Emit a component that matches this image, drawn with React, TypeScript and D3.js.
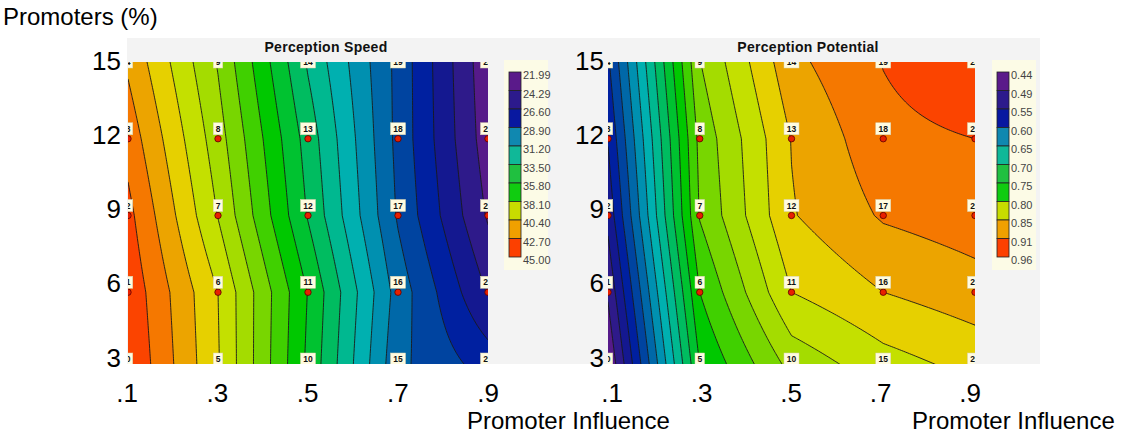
import React from "react";
import * as d3 from "d3";

// Grid of the design: promoter influence (columns) by promoters % (rows)
const influence = [0.1, 0.3, 0.5, 0.7, 0.9];
const promoters = [3, 6, 9, 12, 15];

// Rows run from promoters = 3 up to 15, columns from influence .1 to .9
const speedValues = [
  [45.0, 40.5, 34.4, 28.0, 26.2],
  [44.7, 40.4, 34.6, 28.4, 24.2],
  [44.2, 39.2, 33.4, 27.6, 23.0],
  [43.4, 38.6, 33.0, 27.4, 22.5],
  [42.5, 38.0, 32.2, 27.4, 22.3],
];
const potentialValues = [
  [0.44, 0.725, 0.81, 0.843, 0.862],
  [0.47, 0.752, 0.856, 0.882, 0.897],
  [0.5, 0.78, 0.88, 0.911, 0.922],
  [0.52, 0.786, 0.883, 0.926, 0.934],
  [0.54, 0.803, 0.901, 0.935, 0.958],
];

const speedLegend = ["21.99", "24.29", "26.60", "28.90", "31.20", "33.50", "35.80", "38.10", "40.40", "42.70", "45.00"];
const potentialLegend = ["0.44", "0.49", "0.55", "0.60", "0.65", "0.70", "0.75", "0.80", "0.85", "0.91", "0.96"];

// Fill colours of the 20 contour bands, low value to high value
const bandColors = [
  "#561a8a", "#2e1a8a", "#141890", "#0020a0", "#0044a0",
  "#0068a8", "#0090b0", "#00b0b0", "#00b890", "#00bc60",
  "#00c230", "#00c800", "#40d000", "#78d600", "#a4dc00",
  "#c4e000", "#e6d000", "#eca400", "#f57800", "#fb4400",
];
// Colours of the 10 legend swatches, low to high
const legendColors = [
  "#5a1a8a", "#2c1a8c", "#0818a0", "#1088b0", "#10b898",
  "#20c040", "#10cc10", "#c8dc00", "#f0a000", "#fc4000",
];

const xTickLabels = [".1", ".3", ".5", ".7", ".9"];
const yTickLabels = ["3", "6", "9", "12", "15"];

const FONT = "'Liberation Sans', Arial, Helvetica, sans-serif";
const NX = 181;
const NY = 121;

function bilinear(grid: number[][], fx: number, fy: number) {
  const i0 = Math.min(3, Math.floor(fx));
  const j0 = Math.min(3, Math.floor(fy));
  const tx = fx - i0;
  const ty = fy - j0;
  const a = grid[j0][i0];
  const b = grid[j0][i0 + 1];
  const c = grid[j0 + 1][i0];
  const d = grid[j0 + 1][i0 + 1];
  return a * (1 - tx) * (1 - ty) + b * tx * (1 - ty) + c * (1 - tx) * ty + d * tx * ty;
}

type PanelProps = {
  id: string;
  title: string;
  titleX: number;
  values: number[][];
  legend: string[];
  x0: number;
  x1: number;
  legendX: number;
  tickX0: number;
  tickX1: number;
  yTickRight: number;
};

function Panel({ id, title, titleX, values, legend, x0, x1, legendX, tickX0, tickX1, yTickRight }: PanelProps) {
  const top = 62;
  const clipBottom = 364;
  const xScale = d3.scaleLinear().domain([0.1, 0.9]).range([x0, x1]);
  const yScale = d3.scaleLinear().domain([3, 15]).range([369, top]);
  const xTick = d3.scaleLinear().domain([0.1, 0.9]).range([tickX0, tickX1]);
  const yTick = d3.scaleLinear().domain([3, 15]).range([357, 60]);

  const lo = +legend[0];
  const hi = +legend[legend.length - 1];
  const levels = d3.range(21).map((i) => lo + (i * (hi - lo)) / 20);

  // Resample the 5x5 design onto a fine grid (row 0 = promoters 15)
  const field = new Array(NX * NY);
  for (let j = 0; j < NY; j++) {
    const fy = 4 - (j / (NY - 1)) * 4;
    for (let i = 0; i < NX; i++) {
      const fx = (i / (NX - 1)) * 4;
      field[j * NX + i] = bilinear(values, fx, fy);
    }
  }
  const contours = d3.contours().size([NX, NY]).thresholds(levels)(field);

  const px = (cx: number) => xScale(0.1 + ((cx - 0.5) / (NX - 1)) * 0.8);
  const py = (cy: number) => yScale(15 - ((cy - 0.5) / (NY - 1)) * 12);
  const toPath = (mp: d3.ContourMultiPolygon) =>
    mp.coordinates
      .map((poly) =>
        poly.map((ring) => "M" + ring.map(([cx, cy]) => `${px(cx).toFixed(2)},${py(cy).toFixed(2)}`).join("L") + "Z").join("")
      )
      .join("");

  const paths = contours.map(toPath);
  const legendScale = d3.scaleLinear().domain([0, 10]).range([72, 257]);
  const plotW = x1 - x0;

  const points: { x: number; y: number; n: number }[] = [];
  influence.forEach((inf, ci) =>
    promoters.forEach((pr, ri) => points.push({ x: xScale(inf), y: yScale(pr), n: ci * 5 + ri }))
  );

  return (
    <g>
      <defs>
        <clipPath id={`clip-${id}`}>
          <rect x={x0} y={top} width={plotW} height={clipBottom - top} />
        </clipPath>
      </defs>
      <text
        x={titleX}
        y={52}
        textAnchor="middle"
        fontFamily={FONT}
        fontWeight="bold"
        fontSize={14}
        letterSpacing={0.3}
        fill="#111"
      >
        {title}
      </text>
      <g clipPath={`url(#clip-${id})`}>
        <rect x={x0} y={top} width={plotW} height={clipBottom - top} fill={bandColors[0]} />
        {paths.slice(0, 20).map((d, i) => (
          <path key={`f${i}`} d={d} fill={bandColors[i]} stroke={bandColors[i]} strokeWidth={0.3} />
        ))}
        {paths.slice(1, 20).map((d, i) => (
          <path key={`l${i}`} d={d} fill="none" stroke="#1a1a1a" strokeWidth={0.9} />
        ))}
        {points.map((p) => {
          const label = String(p.n);
          const w = label.length * 5.5 + 4;
          const ly = Math.max(p.y - 10, top);
          return (
            <g key={`p${p.n}`}>
              <circle cx={p.x} cy={p.y} r={3.2} fill="#e82000" stroke="#5a0000" strokeWidth={0.8} />
              <rect x={p.x - w / 2} y={ly - 6} width={w} height={12} fill="#fffbe0" stroke="#d8d2b0" strokeWidth={0.5} />
              <text x={p.x} y={ly + 3} textAnchor="middle" fontFamily={FONT} fontWeight="bold" fontSize={8.5} fill="#111">
                {label}
              </text>
            </g>
          );
        })}
      </g>

      {/* Legend */}
      <rect x={legendX - 5} y={60} width={44} height={210} fill="#fcfbe6" />
      {legendColors.map((c, i) => (
        <rect
          key={`lg${i}`}
          x={legendX}
          y={legendScale(i)}
          width={12}
          height={legendScale(i + 1) - legendScale(i)}
          fill={c}
          stroke="#222"
          strokeWidth={0.8}
        />
      ))}
      {legend.map((t, i) => (
        <text key={`lt${i}`} x={legendX + 14} y={legendScale(i) + 7} fontFamily={FONT} fontSize={11} fill="#444">
          {t}
        </text>
      ))}

      {/* Axes tick labels */}
      {yTickLabels.map((t, i) => (
        <text
          key={`yt${i}`}
          x={yTickRight}
          y={yTick(promoters[i]) + 9.5}
          textAnchor="end"
          fontFamily={FONT}
          fontSize={26}
          fill="#000"
        >
          {t}
        </text>
      ))}
      {xTickLabels.map((t, i) => (
        <text key={`xt${i}`} x={xTick(influence[i])} y={402} textAnchor="middle" fontFamily={FONT} fontSize={26} fill="#000">
          {t}
        </text>
      ))}
    </g>
  );
}

export default function App() {
  return (
    <svg width={1138} height={436} style={{ position: "absolute", left: 0, top: 0, background: "#fff" }}>
      <rect x={0} y={0} width={1138} height={436} fill="#fff" />
      <rect x={127} y={38} width={439} height={326} fill="#f3f3f3" />
      <rect x={566} y={38} width={474} height={326} fill="#f3f3f3" />
      <Panel
        id="speed"
        title="Perception Speed"
        titleX={326}
        values={speedValues}
        legend={speedLegend}
        x0={128}
        x1={488}
        legendX={509}
        tickX0={127}
        tickX1={488}
        yTickRight={121}
      />
      <Panel
        id="potential"
        title="Perception Potential"
        titleX={808}
        values={potentialValues}
        legend={potentialLegend}
        x0={608}
        x1={975}
        legendX={997}
        tickX0={612}
        tickX1={970}
        yTickRight={604}
      />
      <text x={3} y={25} fontFamily={FONT} fontSize={24} fill="#000">
        Promoters (%)
      </text>
      <text x={467} y={429} fontFamily={FONT} fontSize={24} fill="#000">
        Promoter Influence
      </text>
      <text x={912} y={429} fontFamily={FONT} fontSize={24} fill="#000">
        Promoter Influence
      </text>
    </svg>
  );
}
